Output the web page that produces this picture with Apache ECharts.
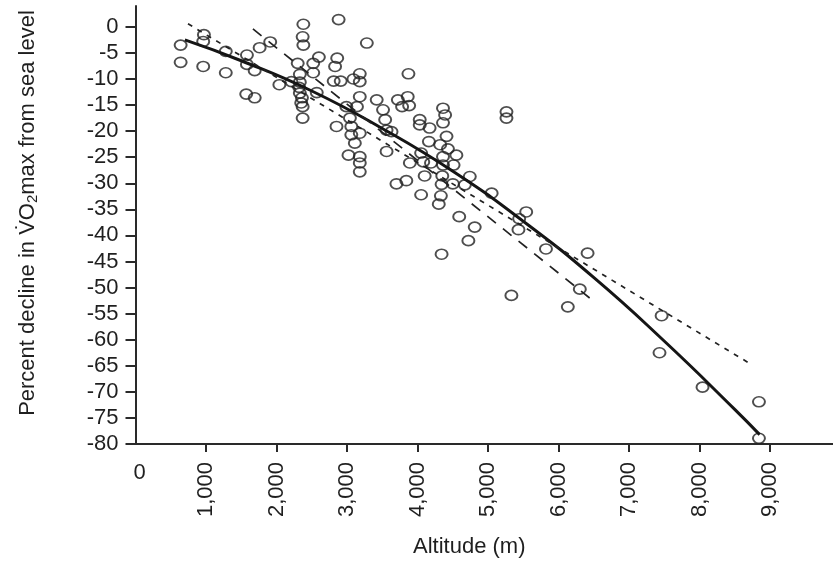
<!DOCTYPE html>
<html>
<head>
<meta charset="utf-8">
<script src="https://cdn.jsdelivr.net/npm/echarts@6/dist/echarts.min.js"></script>
<style>
  html, body { margin: 0; padding: 0; background: #fff; }
  #chart { width: 833px; height: 563px; }
</style>
</head>
<body>
<div id="chart"></div>
<script>
// Individual study results: altitude (m) and percent change in VO2max
const altitude = [
  640, 640, 970, 960, 960, 1280, 1280, 1580, 1580, 1690,
  1570, 1690, 1760, 1910, 2040, 2210, 2380, 2370, 2380, 2300,
  2330, 2330, 2320, 2330, 2360, 2350, 2370, 2370, 2520, 2600,
  2520, 2570, 2880, 2860, 2830, 2810, 2910, 2990, 3040, 2850,
  3060, 3020, 3280, 3090, 3180, 3180, 3870, 3180, 3140, 3420,
  3510, 3720, 3860, 3880, 3780, 3180, 3060, 3110, 3540, 3560,
  4030, 4030, 4170, 4360, 4390, 4360, 4410, 4160, 4320, 4430,
  4550, 3560, 3180, 3180, 3180, 4050, 4080, 3890, 4190, 4360,
  4360, 4510, 4740, 5260, 5260, 4100, 4350, 3840, 3700, 3630,
  4500, 4670, 4340, 4330, 4300, 4050, 5050, 4590, 4810, 4720,
  4340, 5540, 5440, 5430, 5820, 6410, 6300, 6130, 5330, 7460,
  7430, 8040, 8840, 8840
];
const decline = [
  -3.5, -6.8, -1.5, -2.8, -7.6, -4.7, -8.8, -5.4, -7.2, -8.4,
  -12.9, -13.6, -4.0, -2.9, -11.1, -10.5, 0.5, -1.9, -3.5, -7.0,
  -9.1, -10.6, -11.6, -12.7, -13.6, -14.6, -15.3, -17.5, -7.0, -5.8,
  -8.8, -12.6, 1.4, -6.0, -7.6, -10.4, -10.4, -15.3, -17.5, -19.1,
  -19.1, -24.6, -3.1, -10.0, -9.0, -10.5, -9.0, -13.4, -15.3, -14.0,
  -15.9, -14.0, -13.4, -15.1, -15.3, -20.4, -20.7, -22.3, -17.8, -19.8,
  -17.8, -18.8, -19.4, -15.6, -16.9, -18.4, -21.0, -22.0, -22.6, -23.4,
  -24.6, -23.9, -24.9, -26.1, -27.8, -24.2, -25.9, -26.1, -26.1, -24.9,
  -26.5, -26.5, -28.7, -16.3, -17.5, -28.6, -28.6, -29.5, -30.1, -20.1,
  -30.1, -30.3, -30.2, -32.4, -34.0, -32.2, -31.9, -36.4, -38.4, -41.0,
  -43.6, -35.5, -36.8, -38.9, -42.6, -43.4, -50.3, -53.7, -51.5, -55.4,
  -62.5, -69.1, -71.9, -78.9
];

// Curvilinear fit through the data
const fitAltitude = [700, 1500, 2500, 3500, 4500, 5500, 6500, 7500, 8500, 8850];
const fitDecline  = [-2.5, -6.5, -12.3, -19.5, -27.7, -37.3, -48.1, -60.3, -73.4, -78.2];

// Linear fits (short dashes and long dashes)
const shortDashAltitude = [744, 8690];
const shortDashDecline  = [0.6, -64.4];
const longDashAltitude  = [1665, 6440];
const longDashDecline   = [-0.4, -52.0];

// Axis ticks
const xTicks = [1000, 2000, 3000, 4000, 5000, 6000, 7000, 8000, 9000];
const yTicks = [0, -5, -10, -15, -20, -25, -30, -35, -40, -45, -50, -55, -60, -65, -70, -75, -80];

const zip = (a, b) => a.map((v, i) => [v, b[i]]);

const ink = '#1f1f1f';
const font = '"Liberation Sans", Arial, Helvetica, sans-serif';

const chart = echarts.init(document.getElementById('chart'), null, { renderer: 'canvas' });

chart.setOption({
  animation: false,
  backgroundColor: '#ffffff',
  textStyle: { fontFamily: font, color: ink },
  grid: { left: 135.5, right: 0, top: 6, bottom: 119, containLabel: false },
  xAxis: [
    {
      type: 'value',
      min: 0,
      max: 9890,
      position: 'bottom',
      splitLine: { show: false },
      axisLine: { show: true, onZero: false, lineStyle: { color: '#2a2a2a', width: 2 } },
      axisTick: { show: true, customValues: xTicks, length: 8, lineStyle: { color: '#2a2a2a', width: 2 } },
      axisLabel: {
        customValues: xTicks,
        rotate: 90,
        margin: 18,
        fontSize: 22,
        color: ink,
        fontFamily: font,
        formatter: v => v.toLocaleString('en-US')
      },
      name: 'Altitude (m)',
      nameLocation: 'middle',
      nameGap: 92,
      nameTextStyle: { fontSize: 22, color: ink, fontFamily: font, padding: [0, 30, 0, 0] }
    },
    {
      type: 'value',
      min: 0,
      max: 9890,
      position: 'bottom',
      splitLine: { show: false },
      axisLine: { show: false },
      axisTick: { show: false },
      axisLabel: {
        customValues: [0],
        margin: 18,
        fontSize: 22,
        color: ink,
        fontFamily: font,
        padding: [0, 0, 0, 8]
      }
    }
  ],
  yAxis: {
    type: 'value',
    min: -80,
    max: 4,
    splitLine: { show: false },
    axisLine: { show: true, onZero: false, lineStyle: { color: '#2a2a2a', width: 2 } },
    axisTick: { show: true, customValues: yTicks, length: 10, lineStyle: { color: '#2a2a2a', width: 2 } },
    axisLabel: { customValues: yTicks, margin: 17, fontSize: 22, color: ink, fontFamily: font },
    name: '{t|Percent decline in V\u0307O}{s|2}{t|max from sea level}',
    nameLocation: 'middle',
    nameRotate: 90,
    nameGap: 95,
    nameTextStyle: {
      padding: [0, 0, 0, 24],
      rich: {
        t: { fontSize: 22, lineHeight: 26, color: ink, fontFamily: font },
        s: { fontSize: 15, lineHeight: 14, verticalAlign: 'bottom', color: ink, fontFamily: font }
      }
    }
  },
  series: [
    {
      name: 'Studies',
      type: 'scatter',
      xAxisIndex: 0,
      data: zip(altitude, decline),
      symbol: 'circle',
      symbolSize: [12, 10],
      itemStyle: { color: 'rgba(255,255,255,0)', borderColor: '#222', borderWidth: 1.8 },
      z: 2
    },
    {
      name: 'Curvilinear fit',
      type: 'line',
      xAxisIndex: 0,
      data: zip(fitAltitude, fitDecline),
      smooth: true,
      showSymbol: false,
      symbol: 'none',
      lineStyle: { color: '#151515', width: 3 },
      z: 3
    },
    {
      name: 'Linear fit A',
      type: 'line',
      xAxisIndex: 0,
      data: zip(shortDashAltitude, shortDashDecline),
      showSymbol: false,
      symbol: 'none',
      lineStyle: { color: '#222', width: 1.7, type: [5, 6] },
      z: 3
    },
    {
      name: 'Linear fit B',
      type: 'line',
      xAxisIndex: 0,
      data: zip(longDashAltitude, longDashDecline),
      showSymbol: false,
      symbol: 'none',
      lineStyle: { color: '#222', width: 1.7, type: [11, 9] },
      z: 3
    }
  ]
});
</script>
</body>
</html>
